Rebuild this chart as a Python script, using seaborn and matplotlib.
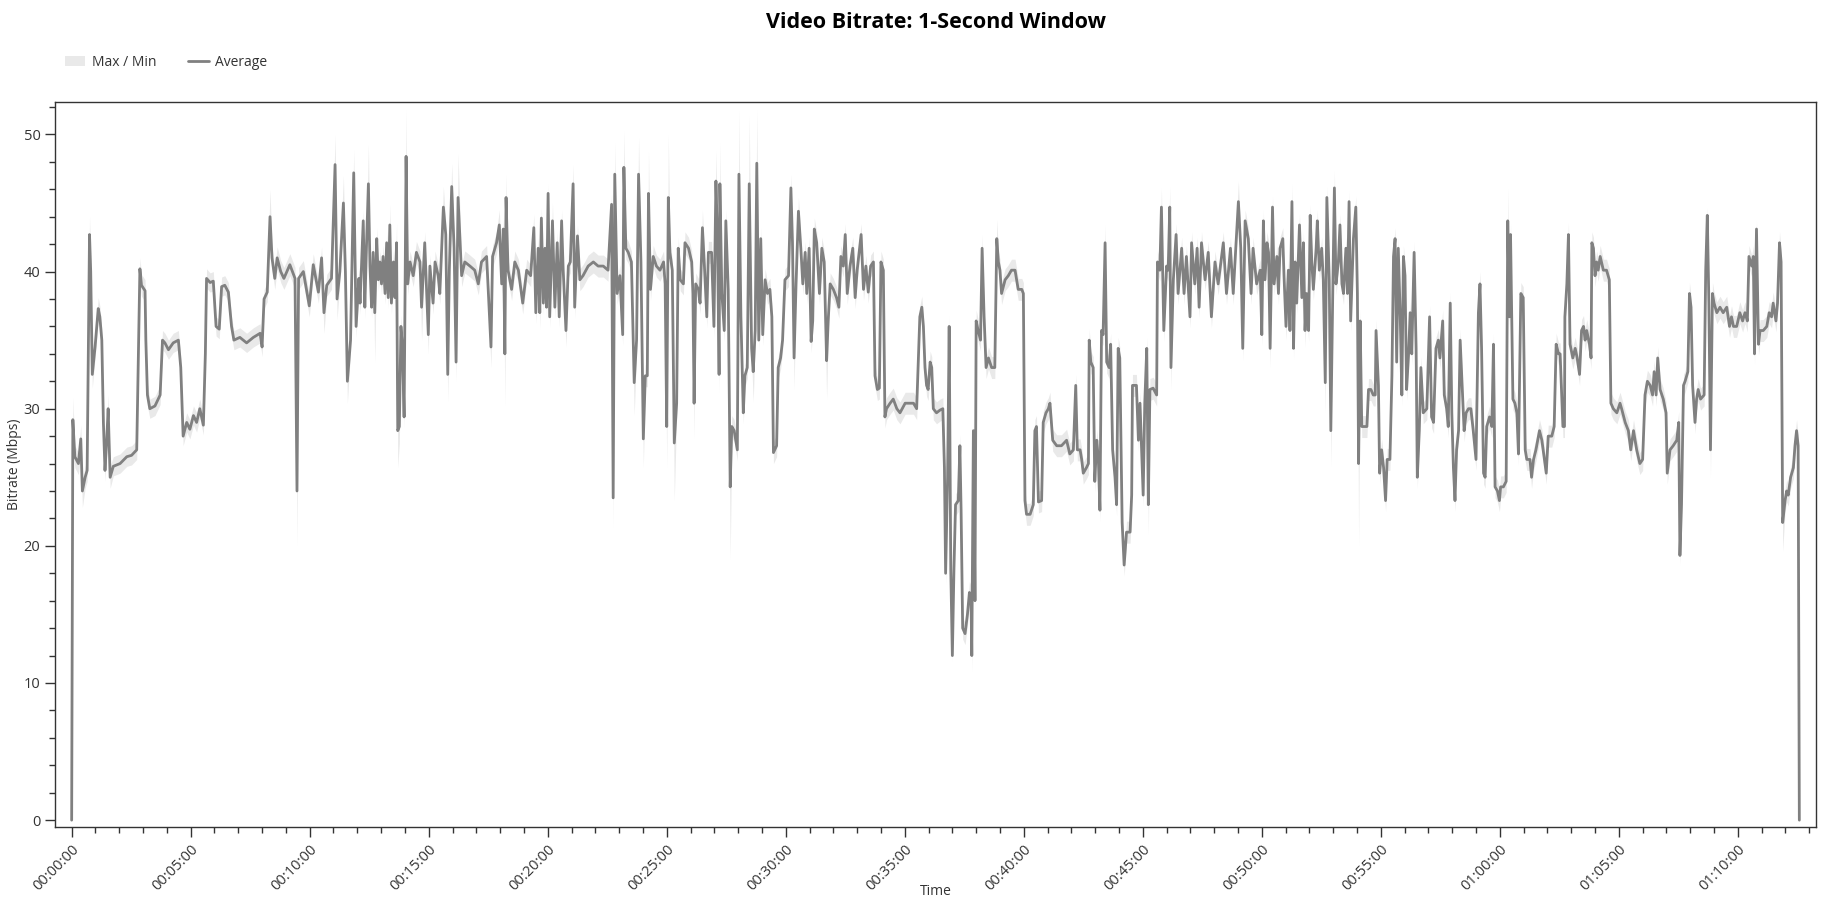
import matplotlib
matplotlib.use("Agg")
import matplotlib.pyplot as plt
import numpy as np
import pandas as pd
import seaborn as sns
from matplotlib.ticker import MultipleLocator, FuncFormatter
from matplotlib.patches import Patch
from matplotlib.lines import Line2D

# ---------------- data ----------------
TITLE = "Video Bitrate: 1-Second Window"
Y_LABEL = "Bitrate (Mbps)"
X_LABEL = "Time"
LEGEND_LABELS = ["Max / Min", "Average"]

time_s = [
    0, 3, 8, 17, 23, 27, 34, 39, 45, 48,
    52, 59, 67, 71, 76, 80, 84, 88, 92, 97,
    105, 122, 139, 151, 164, 172, 176, 185, 187, 191,
    197, 210, 223, 229, 235, 244, 256, 269, 275, 281,
    290, 298, 307, 315, 323, 332, 337, 340, 349, 357,
    364, 372, 378, 386, 395, 403, 409, 424, 441, 458,
    475, 480, 485, 493, 500, 505, 512, 518, 527, 535,
    550, 563, 568, 572, 584, 599, 609, 622, 630, 636,
    643, 655, 664, 669, 676, 685, 690, 695, 703, 711,
    717, 724,
    727, 735, 739, 743, 748, 752, 756, 760, 764, 769,
    773, 777, 781, 785, 790, 794, 798, 802, 806, 811,
    815, 819, 822, 826, 830, 834, 838, 843, 847, 853,
    861, 869, 878, 882, 890, 899, 903, 911, 916, 924,
    928, 937, 943, 948, 952, 958, 964, 969, 974, 983,
    991, 1004, 1016, 1025, 1033, 1046, 1057, 1061, 1071, 1078,
    1084, 1088, 1092, 1095, 1100, 1109, 1117, 1126, 1137, 1147,
    1157, 1165, 1170, 1176, 1180, 1184, 1189, 1193, 1197, 1201,
    1205, 1212, 1218, 1224, 1229, 1235, 1239, 1246, 1252, 1257,
    1264, 1268, 1275, 1281, 1289, 1302, 1315, 1327, 1340, 1352,
    1361, 1365, 1369, 1375, 1382, 1389, 1392, 1397, 1403, 1411,
    1418, 1424, 1429, 1435, 1441, 1446, 1451, 1454, 1459, 1466, 1474,
    1483, 1492, 1496, 1500, 1504, 1508, 1514, 1519, 1525, 1529,
    1534, 1542, 1546, 1555, 1563, 1566, 1569, 1573, 1580, 1584,
    1590, 1595, 1601, 1605, 1613, 1619, 1624, 1628, 1632, 1634,
    1639, 1645, 1649, 1655, 1660, 1664, 1670, 1678, 1682, 1687,
    1693, 1697, 1703, 1708, 1714, 1718, 1723, 1727, 1732, 1737,
    1742, 1748, 1754, 1760, 1765, 1769, 1777, 1781, 1787, 1792,
    1798, 1807, 1813, 1817, 1821, 1826, 1832, 1838, 1843, 1849,
    1853, 1859, 1864, 1868, 1872, 1878, 1885, 1891, 1897, 1903,
    1907, 1912, 1920, 1928, 1934, 1939, 1945, 1950, 1955, 1962,
    1969, 1975, 1980, 1990, 1996, 2002, 2008, 2014, 2021, 2025,
    2031, 2036, 2040, 2046, 2050, 2054, 2063, 2071, 2080, 2088,
    2101, 2113, 2122, 2130, 2134, 2138, 2143, 2147, 2151, 2155,
    2159, 2164, 2168, 2172, 2180, 2189, 2196, 2200, 2203, 2208,
    2212, 2216, 2220, 2224, 2228, 2235,
    2239, 2242, 2246, 2252, 2258, 2263, 2267, 2269, 2273, 2277,
    2280, 2285, 2291, 2295, 2300, 2305, 2311, 2319, 2327, 2332,
    2336, 2340, 2344, 2353, 2361, 2369, 2378, 2386, 2395, 2399,
    2403, 2407, 2416, 2424, 2428, 2432, 2437, 2445, 2449, 2456,
    2462, 2466, 2473, 2483, 2495, 2508, 2516, 2525, 2531, 2535,
    2542, 2546, 2550, 2558, 2563, 2565, 2569, 2575, 2579, 2584,
    2588, 2592, 2596, 2600, 2605, 2609, 2615, 2619, 2624, 2630,
    2634, 2638, 2642, 2648, 2653, 2659, 2668, 2672, 2674, 2684,
    2689, 2693, 2697, 2701, 2705, 2710, 2714, 2718, 2726, 2735,
    2737, 2743, 2747, 2753, 2760, 2764, 2768, 2771, 2777, 2784,
    2789, 2798, 2804, 2810, 2819, 2823, 2831, 2837, 2842, 2848,
    2857, 2865, 2873, 2882, 2890, 2903, 2911, 2921, 2928, 2941,
    2947, 2952, 2958, 2966, 2973, 2978, 2987,
    2996, 3000, 3004, 3008, 3013, 3017, 3021, 3027, 3031, 3038,
    3042, 3046, 3053, 3056, 3061, 3067, 3071, 3076, 3080, 3084,
    3088, 3095, 3101, 3105, 3109, 3113, 3118, 3122, 3126, 3130,
    3137, 3140, 3145, 3151, 3155, 3160, 3164, 3170, 3174, 3179,
    3183, 3187, 3193, 3197, 3202, 3206, 3212, 3216, 3220, 3224,
    3231, 3237, 3241, 3244, 3248, 3252, 3258, 3265, 3269, 3275,
    3281, 3286, 3288, 3294, 3297, 3302, 3307, 3312, 3316, 3323,
    3328, 3332, 3336, 3340, 3344, 3349, 3353, 3357, 3361, 3365,
    3370, 3374, 3378, 3384, 3389, 3392, 3397, 3401, 3407, 3416,
    3423, 3428, 3433, 3439, 3445, 3449, 3456, 3460, 3466, 3470,
    3475, 3479, 3483, 3487, 3491, 3496, 3500, 3504, 3510, 3515,
    3521, 3527, 3533, 3540, 3546, 3550, 3554, 3559, 3563, 3567,
    3574, 3580, 3584, 3588, 3594, 3599, 3602, 3609, 3616, 3620,
    3624, 3627, 3633, 3638, 3643, 3647, 3653, 3659, 3664, 3668,
    3676, 3680, 3685, 3691, 3700, 3706, 3717, 3722, 3731, 3737,
    3742, 3748,
    3752, 3756, 3759, 3763, 3764, 3769, 3773, 3777, 3784, 3790,
    3795, 3801, 3806, 3811, 3815, 3819, 3826, 3830, 3832, 3836,
    3840, 3844, 3848, 3853, 3861, 3869, 3876, 3880, 3886, 3895,
    3903, 3907, 3916, 3924, 3930, 3937, 3945, 3953, 3960, 3966,
    3972, 3979, 3985, 3989, 3994, 3998, 4004, 4012, 4019, 4022,
    4029, 4037, 4046, 4051, 4054, 4058, 4063, 4067, 4074, 4078,
    4082, 4086, 4092, 4096, 4100, 4106, 4115, 4119, 4123, 4127,
    4131, 4136, 4140, 4147, 4155, 4163, 4172, 4179, 4184, 4189,
    4197, 4205, 4212, 4218, 4224, 4228, 4235, 4239, 4242, 4247,
    4252, 4256, 4264, 4273, 4279, 4285, 4289, 4296, 4300, 4305,
    4309, 4313, 4319, 4323, 4327, 4333, 4340, 4344, 4348, 4352, 4355,
]

avg_mbps = [
    0.0, 29.2, 26.5, 26.0, 27.8, 24.0, 25.0, 25.5, 42.7, 40.0,
    32.5, 34.5, 37.3, 36.7, 35.0, 29.0, 25.5, 27.5, 30.0, 25.0,
    25.8, 26.0, 26.5, 26.6, 27.0, 40.2, 39.0, 38.6, 35.0, 31.0,
    30.0, 30.2, 31.0, 35.0, 34.8, 34.3, 34.8, 35.0, 33.0, 28.0,
    29.0, 28.5, 29.5, 29.0, 30.0, 28.8, 34.0, 39.5, 39.2, 39.3,
    36.0, 35.8, 38.9, 39.0, 38.5, 36.0, 35.0, 35.2, 34.8, 35.2,
    35.5, 34.5, 38.0, 38.5, 44.0, 41.0, 39.5, 41.0, 40.0, 39.5,
    40.5, 39.5, 24.0, 39.5, 40.0, 37.5, 40.5, 38.5, 41.0, 37.0,
    39.0, 39.5, 47.8, 38.0, 40.0, 45.0, 40.0, 32.0, 35.0, 47.2,
    36.0, 39.5,
    37.7, 43.7, 37.4, 41.7, 46.4, 40.4, 37.4, 41.4, 37.0, 42.4,
    39.4, 40.7, 39.1, 41.1, 38.4, 42.1, 38.1, 43.4, 37.7, 40.7,
    38.1, 42.1, 28.4, 28.7, 36.0, 34.4, 29.4, 48.4, 39.1, 40.7,
    39.7, 41.4, 40.7, 37.4, 42.1, 35.4, 40.4, 37.7, 40.7, 39.7,
    38.4, 44.7, 42.7, 32.5, 40.1, 46.2, 41.7, 33.4, 45.4, 39.7,
    40.7, 40.4, 40.1, 39.1, 40.7, 41.1, 34.5, 41.1, 42.1, 43.4,
    39.1, 43.1, 34.0, 45.4, 40.1, 38.7, 40.7, 40.1, 37.7, 40.1,
    39.7, 43.2, 37.0, 41.7, 37.0, 43.9, 37.7, 41.7, 37.4, 45.7,
    36.7, 43.7, 37.4, 42.1, 36.7, 43.7, 40.1, 35.7, 40.4, 40.7,
    46.4, 37.4, 42.6, 39.4, 39.7, 40.4, 40.7, 40.4, 40.4, 40.1,
    44.9, 23.5, 47.1, 38.4, 39.7, 35.4, 47.6, 41.7, 41.4, 40.7,
    31.9, 35.0, 47.1, 40.7, 27.8, 32.4, 32.4, 45.7, 38.7, 41.1, 40.4,
    40.1, 40.7, 39.1, 28.7, 45.4, 41.4, 40.1, 27.5, 30.4, 41.7,
    39.4, 39.1, 42.1, 41.7, 40.7, 38.4, 30.4, 39.1, 38.7, 37.7,
    43.2, 40.4, 36.7, 41.4, 41.4, 36.0, 46.6, 42.4, 32.5, 46.4,
    38.4, 35.7, 43.7, 38.7, 24.3, 28.7, 28.4, 27.0, 47.1, 36.7,
    29.7, 32.4, 33.0, 46.4, 34.4, 32.7, 35.7, 47.9, 35.0, 42.4,
    35.4, 39.4, 38.4, 38.7, 36.7, 26.8, 27.3, 33.0, 33.7, 35.0,
    39.4, 39.7, 46.1, 42.1, 33.7, 39.1, 44.4, 41.7, 39.1, 41.4,
    38.4, 41.7, 34.9, 36.4, 43.1, 42.1, 38.4, 41.7, 40.7, 33.5,
    36.4, 39.1, 38.7, 38.1, 37.4, 41.1, 40.4, 42.7, 38.4, 40.4,
    41.7, 38.1, 40.1, 42.7, 38.7, 40.4, 38.5, 40.4, 40.7, 32.4,
    31.4, 31.5, 40.7, 40.1, 29.4, 30.0, 30.4, 30.7, 30.0, 29.7,
    30.4, 30.4, 30.4, 30.0, 33.4, 36.7, 37.4, 36.0, 33.0, 31.7,
    31.4, 33.4, 33.0, 30.0, 29.7, 29.9, 30.0, 25.7, 18.0, 25.0,
    36.0, 18.3, 12.0, 18.3, 23.0, 23.3,
    27.3, 22.6, 14.0, 13.6, 15.0, 16.6, 16.3, 12.0, 28.4, 16.0,
    36.4, 35.7, 35.0, 41.7, 36.7, 33.0, 33.7, 33.0, 33.0, 42.4,
    40.7, 40.1, 38.4, 39.4, 39.7, 40.1, 40.1, 38.7, 38.7, 38.4,
    23.3, 22.3, 22.3, 23.0, 28.4, 28.7, 23.2, 23.3, 29.0, 29.7,
    30.0, 30.4, 27.7, 27.3, 27.3, 27.7, 26.7, 27.0, 31.7, 27.0,
    27.0, 26.3, 25.3, 25.7, 26.0, 35.0, 33.4, 33.0, 24.7, 27.7,
    26.3, 22.6, 35.7, 35.4, 42.1, 33.4, 33.0, 34.7, 27.0, 25.0,
    23.0, 34.4, 33.7, 21.7, 18.6, 21.0, 21.0, 23.7, 31.7, 31.7,
    27.7, 30.4, 27.0, 23.7, 30.4, 34.4, 23.0, 31.4, 31.5, 31.0,
    40.7, 40.1, 44.7, 35.7, 40.4, 40.1, 44.7, 33.0, 39.4, 42.7,
    38.4, 41.7, 38.4, 41.1, 36.7, 42.1, 39.1, 41.7, 37.4, 42.1,
    39.4, 41.4, 36.7, 40.7, 39.1, 42.1, 38.4, 41.7, 38.4, 45.1,
    41.7, 34.4, 43.7, 42.4, 38.4, 41.7, 39.1,
    40.1, 35.4, 43.7, 39.4, 42.1, 41.4, 34.4, 44.7, 39.1, 41.1,
    38.4, 41.7, 42.4, 39.7, 36.0, 40.1, 35.7, 45.1, 34.4, 40.7,
    37.7, 43.4, 38.1, 42.1, 35.7, 38.4, 35.7, 44.1, 40.7, 38.7,
    41.7, 43.7, 40.1, 41.7, 39.4, 31.9, 45.4, 39.4, 28.4, 38.7,
    46.1, 39.1, 40.7, 43.4, 39.1, 38.4, 41.7, 38.4, 45.1, 36.4,
    42.4, 44.7, 38.4, 26.0, 36.4, 28.7, 28.7, 28.7, 31.4, 31.4,
    31.0, 31.0, 35.7, 31.7, 25.3, 27.0, 25.7, 23.3, 26.3, 26.3,
    32.4, 41.1, 42.4, 33.4, 41.7, 36.7, 31.0, 41.1, 39.7, 31.4,
    34.0, 37.0, 34.0, 41.4, 34.4, 25.0, 28.4, 33.0, 29.7, 30.0,
    36.7, 29.4, 29.0, 34.4, 35.0, 33.7, 36.4, 31.0, 30.0, 28.7,
    37.7, 29.7, 25.7, 23.3, 27.0, 28.4, 35.0, 32.4, 28.4, 29.7,
    30.0, 30.0, 28.4, 26.3, 37.0, 39.1, 34.4, 25.3, 25.0, 28.7,
    29.4, 28.7, 34.7, 24.3, 24.0, 23.3, 24.3, 24.3, 24.7, 43.7,
    36.7, 42.7, 30.7, 30.4, 29.7, 26.7, 38.4, 38.1, 27.0, 26.3,
    26.3, 25.0, 26.3, 27.0, 28.4, 27.7, 25.3, 28.0, 28.0, 28.7,
    34.7, 34.0,
    34.0, 31.0, 28.7, 28.7, 36.7, 39.1, 42.7, 34.7, 33.7, 34.4,
    33.7, 32.5, 35.7, 36.0, 35.0, 35.7, 34.7, 33.7, 42.1, 41.7,
    39.7, 40.7, 40.1, 41.1, 40.1, 40.1, 39.4, 30.4, 30.0, 29.7,
    30.4, 30.0, 29.0, 28.4, 27.0, 28.4, 27.0, 26.0, 26.3, 31.0,
    32.0, 31.7, 31.0, 32.7, 31.0, 33.7, 31.4, 30.7, 29.7, 25.3,
    27.0, 27.3, 27.7, 29.0, 19.3, 23.0, 31.7, 32.0, 32.7, 38.4,
    37.4, 31.7, 29.0, 30.7, 31.4, 30.7, 31.0, 40.1, 44.1, 37.7,
    27.0, 38.4, 37.7, 37.0, 37.4, 37.0, 37.4, 36.0, 36.7, 36.0,
    36.0, 37.0, 36.4, 37.0, 36.4, 41.1, 40.4, 41.1, 34.0, 43.1,
    34.7, 35.7, 35.7, 36.0, 37.0, 36.7, 37.7, 36.4, 37.7, 42.1,
    40.7, 21.7, 23.3, 24.0, 23.7, 25.0, 25.7, 27.3, 28.4, 27.3, 0.0,
]

max_mbps = [
    0.2, 30.8, 27.3, 26.8, 28.8, 24.8, 25.8, 26.3, 44.0, 41.0,
    33.5, 35.3, 38.1, 37.5, 35.8, 29.8, 26.3, 28.3, 31.0, 25.8,
    26.5, 26.7, 27.2, 27.3, 27.7, 41.0, 39.8, 39.4, 35.8, 31.8,
    30.7, 30.9, 31.7, 35.7, 35.5, 35.0, 35.5, 35.7, 33.7, 28.7,
    29.7, 29.2, 30.2, 29.7, 30.7, 29.5, 34.7, 40.2, 39.9, 40.0,
    36.7, 36.5, 39.6, 39.7, 39.2, 36.7, 35.7, 35.9, 35.5, 35.9,
    36.2, 35.2, 38.7, 39.2, 46.0, 41.8, 40.3, 41.8, 40.8, 40.3,
    41.3, 40.3, 24.8, 40.3, 40.8, 38.3, 41.3, 39.3, 41.8, 37.8,
    39.8, 40.3, 50.0, 38.8, 40.8, 47.0, 40.8, 32.8, 35.8, 48.9,
    36.8, 40.3,
    38.5, 44.5, 38.2, 42.5, 49.3, 41.2, 38.2, 42.2, 37.8, 43.2,
    40.2, 41.5, 39.9, 41.9, 39.2, 42.9, 38.9, 44.9, 38.5, 41.5,
    38.9, 43.5, 29.2, 29.5, 36.8, 35.2, 30.2, 51.8, 39.9, 41.5,
    40.5, 42.2, 41.5, 38.2, 42.9, 36.2, 41.2, 38.5, 41.5, 40.5,
    39.2, 46.2, 43.5, 33.3, 40.9, 47.9, 42.5, 34.2, 48.6, 40.5,
    41.5, 41.2, 40.9, 39.9, 41.5, 41.9, 35.3, 41.9, 42.9, 44.5,
    39.9, 43.9, 34.8, 47.1, 40.9, 39.5, 41.5, 40.9, 38.5, 40.9,
    40.5, 44.2, 37.8, 42.5, 37.8, 44.7, 38.5, 42.5, 38.2, 46.4,
    37.5, 45.0, 38.2, 42.9, 37.5, 44.5, 40.9, 36.5, 41.2, 41.5,
    47.8, 38.2, 43.4, 40.2, 40.5, 41.2, 41.5, 41.2, 41.2, 40.9,
    45.7, 24.3, 49.4, 39.2, 40.5, 36.2, 50.3, 42.5, 42.2, 41.5,
    32.7, 35.8, 49.8, 41.5, 28.6, 33.2, 33.2, 48.8, 39.5, 41.9, 41.2,
    40.9, 41.5, 39.9, 29.5, 50.0, 42.2, 40.9, 28.3, 31.2, 42.5,
    40.2, 39.9, 42.9, 42.5, 41.5, 39.2, 31.2, 39.9, 39.5, 38.5,
    44.5, 41.2, 37.5, 42.2, 42.2, 36.8, 48.8, 43.2, 33.3, 49.4,
    39.2, 36.5, 44.5, 39.5, 25.1, 29.5, 29.2, 27.8, 51.8, 37.5,
    30.5, 33.2, 33.8, 51.4, 35.2, 33.5, 36.5, 51.8, 35.8, 43.2,
    36.2, 40.2, 39.2, 39.5, 37.5, 27.6, 28.1, 33.8, 34.5, 35.8,
    40.2, 40.5, 47.1, 42.9, 34.5, 39.9, 45.4, 42.5, 39.9, 42.2,
    39.2, 42.5, 35.7, 37.2, 43.9, 42.9, 39.2, 42.5, 41.5, 34.3,
    37.2, 39.9, 39.5, 38.9, 38.2, 41.9, 41.2, 43.5, 39.2, 41.2,
    42.5, 38.9, 40.9, 43.5, 39.5, 41.2, 39.3, 41.2, 41.5, 33.2,
    32.2, 32.3, 41.5, 40.9, 30.2, 30.8, 31.2, 31.5, 30.8, 30.5,
    31.2, 31.2, 31.2, 30.8, 34.2, 37.5, 38.2, 36.8, 33.8, 32.5,
    32.2, 34.2, 33.8, 30.8, 30.5, 30.7, 30.8, 26.5, 18.8, 25.8,
    36.8, 19.1, 12.8, 19.1, 23.8, 24.1,
    28.1, 23.4, 14.8, 14.4, 15.8, 17.4, 17.1, 12.8, 29.2, 16.8,
    37.2, 36.5, 35.8, 42.7, 37.5, 33.8, 34.5, 33.8, 33.8, 43.8,
    41.5, 40.9, 39.2, 40.2, 40.5, 40.9, 40.9, 39.5, 39.5, 39.2,
    24.1, 23.1, 23.1, 23.8, 29.2, 29.5, 24.0, 24.1, 29.8, 30.5,
    30.8, 31.2, 28.5, 28.1, 28.1, 28.5, 27.5, 27.8, 32.5, 27.8,
    27.8, 27.1, 26.1, 26.5, 26.8, 35.8, 34.2, 33.8, 25.5, 28.5,
    27.1, 23.4, 36.5, 36.2, 43.4, 34.2, 33.8, 35.5, 27.8, 25.8,
    23.8, 35.2, 34.5, 22.5, 19.4, 21.8, 21.8, 24.5, 32.5, 32.5,
    28.5, 31.2, 27.8, 24.5, 31.2, 35.2, 23.8, 32.2, 32.3, 31.8,
    41.5, 40.9, 46.1, 36.5, 41.2, 40.9, 46.2, 33.8, 40.2, 43.5,
    39.2, 42.5, 39.2, 41.9, 37.5, 42.9, 39.9, 42.5, 38.2, 42.9,
    40.2, 42.2, 37.5, 41.5, 39.9, 42.9, 39.2, 42.5, 39.2, 46.6,
    42.5, 35.2, 44.5, 43.2, 39.2, 42.5, 39.9,
    40.9, 36.2, 44.5, 40.2, 42.9, 42.2, 35.2, 45.5, 39.9, 41.9,
    39.2, 42.5, 43.2, 40.5, 36.8, 40.9, 36.5, 46.4, 35.2, 41.5,
    38.5, 44.2, 38.9, 42.9, 36.5, 39.2, 36.5, 44.9, 41.5, 39.5,
    42.5, 44.5, 40.9, 42.5, 40.2, 32.7, 46.2, 40.2, 29.2, 39.5,
    47.4, 39.9, 41.5, 44.2, 39.9, 39.2, 42.5, 39.2, 45.9, 37.2,
    43.2, 45.5, 39.2, 26.8, 37.2, 29.5, 29.5, 29.5, 32.2, 32.2,
    31.8, 31.8, 36.5, 32.5, 26.1, 27.8, 26.5, 24.1, 27.1, 27.1,
    33.2, 41.9, 43.2, 34.2, 42.5, 37.5, 31.8, 41.9, 40.5, 32.2,
    34.8, 37.8, 34.8, 42.2, 35.2, 25.8, 29.2, 33.8, 30.5, 30.8,
    37.5, 30.2, 29.8, 35.2, 35.8, 34.5, 37.2, 31.8, 30.8, 29.5,
    38.5, 30.5, 26.5, 24.1, 27.8, 29.2, 35.8, 33.2, 29.2, 30.5,
    30.8, 30.8, 29.2, 27.1, 37.8, 40.0, 35.2, 26.1, 25.8, 29.5,
    30.2, 29.5, 35.5, 25.1, 24.8, 24.1, 25.1, 25.1, 25.5, 46.1,
    37.5, 43.5, 31.5, 31.2, 30.5, 27.5, 39.2, 38.9, 27.8, 27.1,
    27.1, 25.8, 27.1, 27.8, 29.2, 28.5, 26.1, 28.8, 28.8, 29.5,
    35.5, 34.8,
    34.8, 31.8, 29.5, 29.5, 37.5, 39.9, 43.6, 35.5, 34.5, 35.2,
    34.5, 33.3, 36.5, 36.8, 35.8, 36.5, 35.5, 34.5, 42.9, 42.5,
    40.5, 41.5, 40.9, 41.9, 40.9, 40.9, 40.2, 31.2, 30.8, 30.5,
    31.2, 30.8, 29.8, 29.2, 27.8, 29.2, 27.8, 26.8, 27.1, 31.8,
    32.8, 32.5, 31.8, 33.5, 31.8, 34.5, 32.2, 31.5, 30.5, 26.1,
    27.8, 28.1, 28.5, 29.8, 20.1, 23.8, 32.5, 32.8, 33.5, 39.2,
    38.2, 32.5, 29.8, 31.5, 32.2, 31.5, 31.8, 40.9, 44.7, 38.5,
    27.8, 39.2, 38.5, 37.8, 38.2, 37.8, 38.2, 36.8, 37.5, 36.8,
    36.8, 37.8, 37.2, 37.8, 37.2, 41.9, 41.2, 41.9, 34.8, 43.7,
    35.5, 36.5, 36.5, 36.8, 37.8, 37.5, 38.5, 37.2, 38.5, 42.9,
    41.5, 22.5, 24.1, 24.8, 24.5, 25.8, 26.5, 28.1, 29.2, 28.1, 0.3,
]

min_mbps = [
    0.0, 27.5, 25.7, 25.2, 26.8, 22.8, 24.2, 24.7, 41.5, 39.0,
    31.5, 33.7, 36.5, 35.9, 34.2, 28.2, 24.7, 26.7, 29.0, 24.2,
    25.1, 25.3, 25.8, 25.9, 26.3, 39.4, 38.2, 37.8, 34.2, 30.2,
    29.3, 29.5, 30.3, 34.3, 34.1, 33.6, 34.1, 34.3, 32.3, 27.3,
    28.3, 27.8, 28.8, 28.3, 29.3, 28.1, 33.3, 38.8, 38.5, 38.6,
    35.3, 35.1, 38.2, 38.3, 37.8, 35.3, 34.3, 34.5, 34.1, 34.5,
    34.8, 33.8, 37.3, 37.8, 43.0, 40.2, 38.7, 40.2, 39.2, 38.7,
    39.7, 38.7, 20.0, 38.7, 39.2, 36.7, 39.7, 37.7, 40.2, 35.5,
    38.2, 38.7, 46.5, 36.5, 39.2, 44.0, 39.2, 30.4, 34.2, 46.0,
    35.2, 38.7,
    36.9, 42.9, 36.6, 40.9, 45.6, 39.6, 36.6, 40.6, 33.4, 41.6,
    38.6, 39.9, 38.3, 40.3, 37.6, 41.3, 37.3, 42.6, 36.9, 39.9,
    37.3, 41.3, 25.7, 27.5, 35.2, 33.6, 28.6, 47.6, 38.3, 39.9,
    38.9, 40.6, 39.9, 35.0, 41.3, 34.0, 39.6, 36.9, 39.9, 38.9,
    37.6, 43.9, 41.9, 30.5, 39.3, 45.4, 40.9, 32.0, 44.6, 38.9,
    39.9, 39.6, 39.3, 38.3, 39.9, 40.3, 33.0, 40.3, 41.3, 42.6,
    38.3, 42.3, 30.2, 44.6, 39.3, 37.9, 39.9, 39.3, 36.9, 39.3,
    38.9, 42.4, 36.2, 40.9, 35.8, 43.1, 36.9, 40.9, 36.6, 44.9,
    35.9, 42.9, 36.6, 41.3, 35.9, 42.9, 39.3, 34.5, 39.6, 39.9,
    45.6, 36.6, 41.8, 38.6, 38.9, 39.6, 39.9, 39.6, 39.6, 39.3,
    44.1, 21.3, 46.3, 37.6, 38.9, 34.6, 46.8, 40.9, 40.6, 39.9,
    29.5, 34.2, 46.3, 39.9, 25.7, 31.6, 31.6, 44.9, 37.9, 40.3, 39.6,
    39.3, 39.9, 38.3, 25.7, 44.6, 40.6, 39.3, 23.3, 29.6, 40.9,
    38.6, 38.3, 41.3, 40.9, 39.9, 37.6, 27.8, 38.3, 37.9, 36.9,
    42.4, 39.6, 35.9, 40.6, 40.6, 35.2, 45.8, 41.6, 31.2, 45.6,
    37.6, 34.9, 42.9, 37.9, 19.0, 27.9, 27.6, 26.2, 46.3, 35.9,
    28.9, 31.6, 32.2, 45.6, 33.6, 30.5, 34.9, 47.1, 34.2, 41.6,
    34.6, 38.6, 37.6, 37.9, 35.9, 26.0, 26.5, 32.2, 32.9, 34.2,
    38.6, 38.9, 45.3, 41.3, 31.4, 38.3, 43.6, 40.9, 38.3, 40.6,
    37.6, 40.9, 34.1, 35.6, 42.3, 41.3, 37.6, 40.9, 39.9, 30.7,
    35.6, 38.3, 37.9, 37.3, 36.6, 40.3, 39.6, 41.9, 37.6, 39.6,
    40.9, 37.3, 39.3, 41.9, 37.9, 39.6, 37.7, 39.6, 39.9, 31.6,
    30.6, 30.7, 39.9, 39.3, 28.6, 29.2, 29.6, 29.9, 29.2, 28.9,
    29.6, 29.6, 29.6, 29.2, 32.6, 35.9, 36.6, 35.2, 32.2, 30.9,
    30.6, 32.6, 32.2, 29.2, 28.9, 29.1, 29.2, 24.9, 17.2, 24.2,
    35.2, 17.5, 11.6, 17.5, 22.2, 22.5,
    26.5, 21.8, 13.2, 12.8, 14.2, 15.8, 15.5, 10.8, 27.6, 15.2,
    35.6, 34.9, 34.2, 40.9, 35.9, 32.2, 32.9, 32.2, 32.2, 41.6,
    39.9, 39.3, 37.6, 38.6, 38.9, 39.3, 39.3, 37.9, 37.9, 37.6,
    22.5, 21.5, 21.5, 22.2, 27.6, 27.9, 22.4, 22.5, 28.2, 28.9,
    29.2, 29.6, 26.9, 26.5, 26.5, 26.9, 25.9, 26.2, 30.9, 26.2,
    26.2, 25.5, 24.5, 24.9, 25.2, 34.2, 32.6, 32.2, 23.9, 26.9,
    25.5, 21.8, 34.9, 34.6, 41.3, 32.6, 32.2, 33.9, 26.2, 24.2,
    22.2, 33.6, 32.9, 20.9, 17.8, 20.2, 20.2, 22.9, 30.9, 30.9,
    26.9, 29.6, 26.2, 22.9, 29.6, 33.6, 20.8, 30.6, 30.7, 30.2,
    39.9, 39.3, 43.9, 34.9, 39.6, 39.3, 43.9, 31.4, 38.6, 41.9,
    37.6, 40.9, 37.6, 40.3, 35.9, 41.3, 38.3, 40.9, 36.6, 41.3,
    38.6, 40.6, 35.9, 39.9, 38.3, 41.3, 37.6, 40.9, 37.6, 44.3,
    40.9, 33.5, 42.9, 41.6, 37.6, 40.9, 38.3,
    39.3, 34.6, 42.9, 38.6, 41.3, 40.6, 33.0, 43.9, 38.3, 40.3,
    37.6, 40.9, 41.6, 38.9, 35.0, 39.3, 34.9, 44.3, 33.6, 39.9,
    36.9, 42.6, 37.3, 41.3, 34.5, 37.6, 34.9, 43.3, 39.9, 37.9,
    40.9, 42.9, 39.3, 40.9, 38.6, 29.7, 44.6, 38.6, 25.8, 37.9,
    45.3, 38.3, 39.9, 42.6, 38.3, 37.6, 40.9, 37.6, 44.3, 35.6,
    41.6, 43.9, 37.6, 20.0, 35.6, 27.9, 27.9, 27.9, 30.6, 30.6,
    30.2, 30.2, 34.9, 30.9, 24.5, 26.2, 24.9, 22.5, 25.5, 25.5,
    31.6, 40.3, 41.6, 32.6, 40.9, 35.9, 30.2, 40.3, 38.9, 30.6,
    33.2, 36.2, 33.2, 40.6, 33.6, 24.2, 27.6, 32.2, 28.9, 29.2,
    35.9, 28.6, 28.2, 33.6, 34.2, 32.9, 35.6, 30.2, 29.2, 27.9,
    36.9, 28.9, 24.9, 22.5, 26.2, 27.6, 34.2, 31.6, 27.6, 28.9,
    29.2, 29.2, 27.6, 25.5, 36.2, 38.3, 33.6, 24.5, 24.2, 27.9,
    28.6, 27.9, 33.9, 23.5, 23.2, 22.5, 23.5, 23.5, 23.9, 42.9,
    35.9, 41.9, 29.9, 29.6, 28.9, 25.9, 37.6, 37.3, 26.2, 25.5,
    25.5, 24.2, 25.5, 26.2, 27.6, 26.9, 24.5, 27.2, 27.2, 27.9,
    33.9, 33.2,
    33.2, 30.2, 27.9, 27.9, 35.9, 38.3, 41.9, 33.9, 32.9, 33.6,
    32.9, 31.7, 34.9, 35.2, 34.2, 34.9, 33.9, 32.9, 41.3, 40.9,
    38.9, 39.9, 39.3, 40.3, 39.3, 39.3, 38.6, 29.6, 29.2, 28.9,
    29.6, 29.2, 28.2, 27.6, 26.2, 27.6, 26.2, 25.2, 25.5, 30.2,
    31.2, 30.9, 30.2, 31.9, 30.2, 32.9, 30.6, 29.9, 28.9, 24.5,
    26.2, 26.5, 26.9, 28.2, 18.6, 22.2, 30.9, 31.2, 31.9, 37.6,
    36.6, 30.9, 28.2, 29.9, 30.6, 29.9, 30.2, 39.3, 43.3, 36.9,
    25.0, 37.6, 36.9, 36.2, 36.6, 36.2, 36.6, 35.2, 35.9, 35.2,
    35.2, 36.2, 35.6, 36.2, 35.6, 40.3, 39.6, 40.3, 33.2, 42.3,
    33.9, 34.9, 34.9, 35.2, 36.2, 35.9, 36.9, 35.6, 36.9, 41.3,
    39.9, 19.6, 22.5, 23.2, 22.9, 24.2, 24.9, 26.5, 27.6, 26.5, 0.0,
]

assert len(time_s) == len(avg_mbps) == len(max_mbps) == len(min_mbps)

df = pd.DataFrame({"time_s": time_s, "avg": avg_mbps,
                   "max": max_mbps, "min": min_mbps})

# ---------------- styling ----------------
sns.set_theme(style="ticks")
plt.rcParams["font.family"] = ["Open Sans", "DejaVu Sans"]

LINE_COLOR = "#808080"
BAND_COLOR = "#e9e9e9"
AXIS_COLOR = "#333333"
TEXT_COLOR = "#333333"

W, H = 1830, 902
fig = plt.figure(figsize=(W / 100, H / 100), dpi=100)
ax_left, ax_right, ax_top, ax_bottom = 55, 1816, 101.5, 827
ax = fig.add_axes([ax_left / W, 1 - ax_bottom / H,
                   (ax_right - ax_left) / W, (ax_bottom - ax_top) / H])

ax.fill_between(df["time_s"], df["min"], df["max"], color=BAND_COLOR,
                linewidth=0, zorder=1)
sns.lineplot(data=df, x="time_s", y="avg", ax=ax, color=LINE_COLOR,
             linewidth=2.0, estimator=None, sort=False, legend=False, zorder=2)

ax.set_xlim(-42, 4397)
ax.set_ylim(-0.5, 52.4)

def hms(v, pos=None):
    v = int(round(v))
    return f"{v // 3600:02d}:{(v % 3600) // 60:02d}:{v % 60:02d}"

ax.xaxis.set_major_locator(MultipleLocator(300))
ax.xaxis.set_minor_locator(MultipleLocator(60))
ax.xaxis.set_major_formatter(FuncFormatter(hms))
ax.yaxis.set_major_locator(MultipleLocator(10))
ax.yaxis.set_minor_locator(MultipleLocator(2))

ax.tick_params(axis="both", which="major", direction="out", length=7,
               width=1, color=AXIS_COLOR, labelcolor=TEXT_COLOR, labelsize=10.5)
ax.tick_params(axis="both", which="minor", direction="out", length=4,
               width=1, color=AXIS_COLOR)
for lbl in ax.get_xticklabels():
    lbl.set_rotation(45)
    lbl.set_ha("right")
    lbl.set_rotation_mode("anchor")

for sp in ax.spines.values():
    sp.set_color(AXIS_COLOR)
    sp.set_linewidth(1)

ax.set_ylabel(Y_LABEL, fontsize=10, color=TEXT_COLOR, labelpad=1)
ax.set_xlabel(X_LABEL, fontsize=10, color=TEXT_COLOR)
ax.xaxis.set_label_coords(0.5, -0.079)

fig.text((ax_left + ax_right) / 2 / W, 1 - 22 / H, TITLE, ha="center",
         va="center", fontsize=15.5, fontweight="bold", color="black")

handles = [Patch(facecolor=BAND_COLOR, edgecolor="none"),
           Line2D([0], [0], color=LINE_COLOR, linewidth=2.0)]
fig.legend(handles, LEGEND_LABELS, loc="center left",
           bbox_to_anchor=(52 / W, 1 - 62 / H), ncol=2, frameon=False,
           fontsize=10, handlelength=1.5, handletextpad=0.45,
           columnspacing=2.3, labelcolor=TEXT_COLOR)

fig.savefig("out.png", dpi=100)
